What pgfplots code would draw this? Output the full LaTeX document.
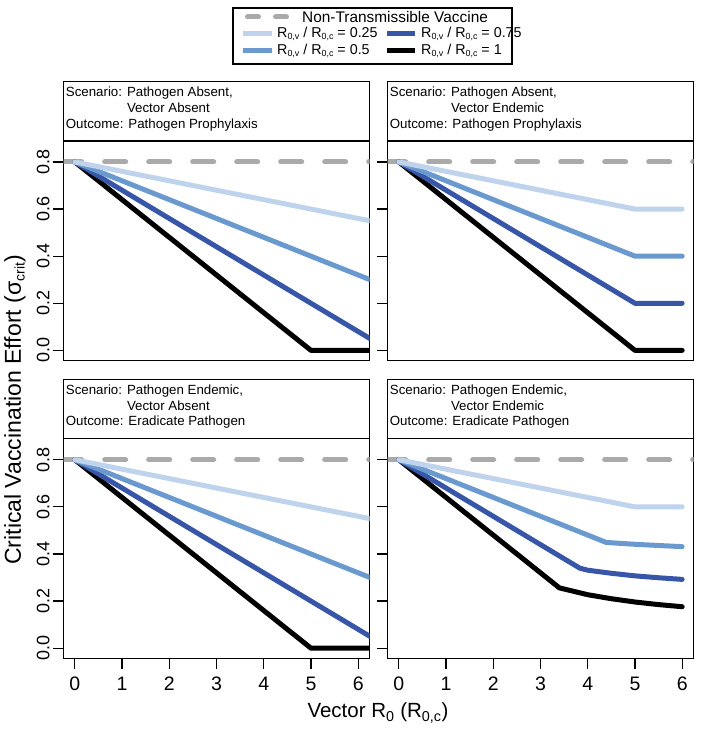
\documentclass[border=0pt]{standalone}
\usepackage{fontspec}
\setmainfont{Liberation Sans}
\usepackage{pgfplots}
\pgfplotsset{compat=1.18}

\definecolor{cA}{RGB}{192,211,237}
\definecolor{cB}{RGB}{106,153,207}
\definecolor{cC}{RGB}{56,86,168}
\definecolor{cG}{RGB}{170,170,170}

\newcommand\lsub[1]{\raisebox{-2.6pt}{\fontsize{8.9}{9}\selectfont #1}}
\newcommand\ysub[1]{\raisebox{-3.6pt}{\fontsize{14}{14}\selectfont #1}}

\pgfplotsset{
 panel/.style={
  scale only axis, width=306pt, height=219.5pt,
  xmin=-0.24, xmax=6.24, ymin=-0.043, ymax=0.889,
  axis line style={line width=1.2pt},
  tick align=outside, xtick pos=bottom, ytick pos=left,
  major tick length=10.5pt,
  every tick/.style={black, line width=1.2pt},
  ytick={0,0.2,0.4,0.6,0.8},
  xtick={0,1,2,3,4,5,6},
  /pgf/number format/assume math mode=true,
  yticklabel style={font=\fontsize{18}{20}\selectfont, rotate=90, anchor=south},
  xticklabel style={font=\fontsize{19.5}{22}\selectfont, yshift=-5pt},
  y tick label style={/pgf/number format/.cd, fixed, fixed zerofill, precision=1, /tikz/.cd},
  every axis plot/.append style={line width=5pt, line join=round, line cap=round},
  clip=true,
 },
 ref/.style={cG, dash pattern=on 21pt off 23pt, line cap=round, line width=5pt},
}

\pgfplotstableread{
x y
-0.3 0.8
6.6 0.8
}\refline

\newcommand{\header}[4]{%
 \draw[line width=1.2pt] (#1pt,#2pt) rectangle ({#1pt+306pt},{#2pt+59.3pt});
 \node[anchor=base west, inner sep=0, font=\fontsize{13.3}{15.8}\selectfont] at ({#1pt+2.2pt},{#2pt+44.5pt}) {Scenario: Pathogen #3,};
 \node[anchor=base west, inner sep=0, font=\fontsize{13.3}{15.8}\selectfont] at ({#1pt+2.2pt},{#2pt+28.7pt}) {\phantom{Scenario: }Vector #4};
}

\begin{document}
\begin{tikzpicture}
\useasboundingbox (0pt,0pt) rectangle (704pt,732pt);

% top-left
\begin{axis}[panel, at={(63.5pt,371.5pt)}, anchor=south west, xtick=\empty]
\addplot[ref] table {\refline};
\addplot[black] coordinates {(0,0.8) (5,0) (6.6,0)};
\addplot[cC] coordinates {(0,0.8) (6.6,0.008)};
\addplot[cB] coordinates {(0,0.8) (6.6,0.272)};
\addplot[cA] coordinates {(0,0.8) (6.6,0.536)};
\end{axis}

% top-right
\begin{axis}[panel, at={(387.5pt,371.5pt)}, anchor=south west, xtick=\empty, yticklabels={}]
\addplot[ref] table {\refline};
\addplot[black] coordinates {(0,0.8) (5,0) (6,0)};
\addplot[cC] coordinates {(0,0.8) (5,0.2) (6,0.2)};
\addplot[cB] coordinates {(0,0.8) (5,0.4) (6,0.4)};
\addplot[cA] coordinates {(0,0.8) (5,0.6) (6,0.6)};
\end{axis}

% bottom-left
\begin{axis}[panel, at={(63.5pt,73.7pt)}, anchor=south west]
\addplot[ref] table {\refline};
\addplot[black] coordinates {(0,0.8) (5,0) (6.6,0)};
\addplot[cC] coordinates {(0,0.8) (6.6,0.008)};
\addplot[cB] coordinates {(0,0.8) (6.6,0.272)};
\addplot[cA] coordinates {(0,0.8) (6.6,0.536)};
\end{axis}

% bottom-right
\begin{axis}[panel, at={(387.5pt,73.7pt)}, anchor=south west, yticklabels={}]
\addplot[ref] table {\refline};
\addplot[black] coordinates {(0,0.8) (3.4,0.256) (4,0.227) (4.5,0.210) (5,0.196) (5.5,0.185) (6,0.176)};
\addplot[cC] coordinates {(0,0.8) (3.83,0.34) (4,0.331) (4.5,0.318) (5,0.307) (5.5,0.299) (6,0.292)};
\addplot[cB] coordinates {(0,0.8) (4.39,0.449) (5,0.441) (5.5,0.436) (6,0.431)};
\addplot[cA] coordinates {(0,0.8) (5,0.6) (6,0.6)};
\end{axis}

% headers
\header{63.5}{591}{Absent}{Absent}
\node[anchor=base west, inner sep=0, font=\fontsize{13.3}{15.8}\selectfont] at (65.7pt,603.9pt) {Outcome: Pathogen Prophylaxis};
\header{387.5}{591}{Absent}{Endemic}
\node[anchor=base west, inner sep=0, font=\fontsize{13.3}{15.8}\selectfont] at (389.7pt,603.9pt) {Outcome: Pathogen Prophylaxis};
\header{63.5}{293.2}{Endemic}{Absent}
\node[anchor=base west, inner sep=0, font=\fontsize{13.3}{15.8}\selectfont] at (65.7pt,306.1pt) {Outcome: Eradicate Pathogen};
\header{387.5}{293.2}{Endemic}{Endemic}
\node[anchor=base west, inner sep=0, font=\fontsize{13.3}{15.8}\selectfont] at (389.7pt,306.1pt) {Outcome: Eradicate Pathogen};

% axis labels
\node[rotate=90, font=\fontsize{23}{26}\selectfont] at (15pt,322pt) {Critical Vaccination Effort (σ\ysub{crit})};
\node[font=\fontsize{20.5}{24}\selectfont] at (378pt,19pt) {Vector R\textsubscript{0} (R\textsubscript{0,c})};

% legend
\draw[line width=1.2pt] (233pt,668pt) rectangle (512pt,724pt);
\draw[cG, line width=5pt, dash pattern=on 11pt off 17pt, line cap=round] (247.5pt,715pt) -- (287pt,715pt);
\node[anchor=west, inner sep=0, font=\fontsize{15.4}{18}\selectfont] at (302pt,715pt) {Non-Transmissible Vaccine};
\draw[cA, line width=5pt] (243pt,698pt) -- (272pt,698pt);
\node[anchor=west, inner sep=0, font=\fontsize{14.3}{17}\selectfont] at (277pt,698pt) {R\lsub{0,v} / R\lsub{0,c} = 0.25};
\draw[cB, line width=5pt] (243pt,681pt) -- (272pt,681pt);
\node[anchor=west, inner sep=0, font=\fontsize{14.3}{17}\selectfont] at (277pt,681pt) {R\lsub{0,v} / R\lsub{0,c} = 0.5};
\draw[cC, line width=5pt] (387pt,698pt) -- (415pt,698pt);
\node[anchor=west, inner sep=0, font=\fontsize{14.3}{17}\selectfont] at (421pt,698pt) {R\lsub{0,v} / R\lsub{0,c} = 0.75};
\draw[black, line width=5pt] (387pt,681pt) -- (415pt,681pt);
\node[anchor=west, inner sep=0, font=\fontsize{14.3}{17}\selectfont] at (421pt,681pt) {R\lsub{0,v} / R\lsub{0,c} = 1};
\end{tikzpicture}
\end{document}
